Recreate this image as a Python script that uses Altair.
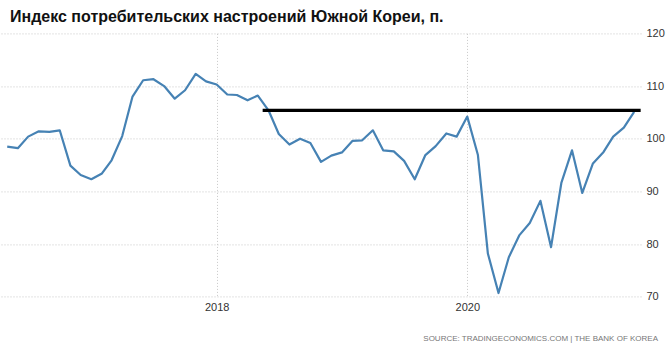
import altair as alt
import pandas as pd

# Monthly index values, May 2016 .. May 2021
values = [
    98.5, 98.2, 100.4, 101.4, 101.3, 101.6, 94.9, 93.1,            # 2016 May-Dec
    92.3, 93.4, 95.9, 100.5, 108.0, 111.1, 111.3, 110.0, 107.6, 109.2, 112.3, 110.9,  # 2017
    110.3, 108.4, 108.3, 107.3, 108.2, 105.4, 100.9, 98.9, 100.0, 99.2, 95.6, 96.8,   # 2018
    97.4, 99.6, 99.7, 101.6, 97.8, 97.6, 95.8, 92.3, 96.9, 98.6, 101.0, 100.4,        # 2019
    104.2, 96.9, 78.2, 70.7, 77.5, 81.7, 84.0, 88.2, 79.4, 91.6, 97.8, 89.7,          # 2020
    95.3, 97.5, 100.4, 102.1, 105.1,                                                   # 2021
]
months = pd.date_range("2016-05-01", periods=len(values), freq="MS").strftime("%Y-%m-%d").tolist()

ref_level = [105.4]
ref_start = ["2018-05-15"]
ref_end = ["2021-05-20"]

y_ticks = [70, 80, 90, 100, 110, 120]
x_ticks = ["2018-01-01", "2020-01-01"]
x_domain = ["2016-04-10", "2021-05-21"]

title_text = "Индекс потребительских настроений Южной Кореи, п."
source_text = "SOURCE: TRADINGECONOMICS.COM | THE BANK OF KOREA"

df = pd.DataFrame({"date": months, "value": values})
ref_df = pd.DataFrame({"start": ref_start, "end": ref_end, "level": ref_level})

W = 641
H = 263.3
TOP = 33.4

x_scale = alt.Scale(domain=x_domain)
y_scale = alt.Scale(domain=[70, 120], nice=False, zero=False)

grid_dash = [1, 2]

line = alt.Chart(df).mark_line(color="#4682b4", strokeWidth=2.2, strokeJoin="round").encode(
    x=alt.X("date:T", scale=x_scale,
            axis=alt.Axis(values=[alt.DateTime(year=2018, month=1, date=1),
                                  alt.DateTime(year=2020, month=1, date=1)],
                          format="%Y", title=None, domain=False, ticks=False,
                          labelPadding=5, labelFontSize=11, labelFont="Liberation Sans",
                          labelColor="#333333", grid=True, gridColor="#c8c8c8",
                          gridDash=grid_dash, gridWidth=1)),
    y=alt.Y("value:Q", scale=y_scale,
            axis=alt.Axis(orient="right", values=y_ticks, title=None, domain=False,
                          ticks=False, labelPadding=5, labelFontSize=11,
                          labelFont="Liberation Sans", labelColor="#333333",
                          grid=True, gridColor="#c8c8c8", gridDash=grid_dash, gridWidth=1)),
)

ref = alt.Chart(ref_df).mark_rule(color="#000000", strokeWidth=3.2).encode(
    x=alt.X("start:T", scale=x_scale),
    x2="end:T",
    y=alt.Y("level:Q", scale=y_scale),
)

title = alt.Chart(pd.DataFrame({"t": [title_text]})).mark_text(
    align="left", baseline="alphabetic", font="Liberation Sans", fontWeight="bold",
    fontSize=16, color="#111111"
).encode(x=alt.value(10), y=alt.value(22.3 - TOP), text="t:N")

source = alt.Chart(pd.DataFrame({"t": [source_text]})).mark_text(
    align="right", baseline="alphabetic", font="Liberation Sans",
    fontSize=8, color="#777777"
).encode(x=alt.value(658), y=alt.value(341 - TOP), text="t:N")

chart = alt.layer(line, ref, title, source).properties(
    width=W, height=H,
    autosize=alt.AutoSizeParams(type="none"),
    padding={"left": 0, "top": TOP, "right": 671 - W, "bottom": 348 - TOP - H},
    background="white",
).configure_view(stroke=None)

chart.save("out.html", embed_options={"renderer": "svg", "actions": False})
